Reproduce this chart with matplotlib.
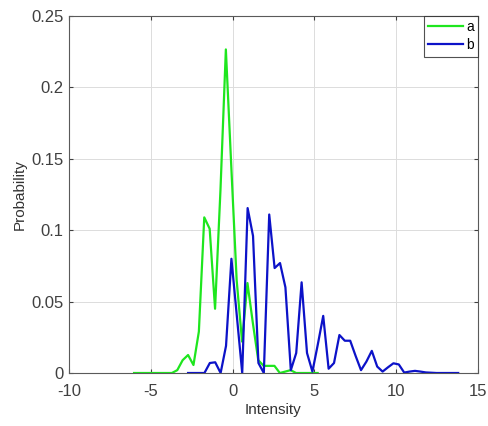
import matplotlib
matplotlib.use("Agg")
import matplotlib.pyplot as plt
from matplotlib.ticker import FormatStrFormatter

plt.rcParams['font.family'] = ['Liberation Sans', 'DejaVu Sans']
plt.rcParams['axes.unicode_minus'] = False

# series a (green)
a_x = [-6.02, -5.69, -5.36, -5.03, -4.70, -4.37, -4.04, -3.71, -3.38, -3.05,
       -2.72, -2.39, -2.06, -1.73, -1.40, -1.07, -0.74, -0.41, -0.08, 0.25,
       0.58, 0.91, 1.24, 1.57, 1.90, 2.23, 2.56, 2.89, 3.22, 3.55,
       3.88, 4.21, 4.54, 4.87, 5.20]
a_y = [0, 0, 0, 0, 0, 0, 0, 0, 0.002, 0.009,
       0.0126, 0.0056, 0.029, 0.109, 0.101, 0.045, 0.128, 0.2266, 0.145, 0.065,
       0.022, 0.063, 0.035, 0.009, 0.005, 0.005, 0.005, 0.0, 0.001, 0.002,
       0.0, 0, 0, 0, 0]

# series b (blue)
b_x = [-2.72, -2.39, -2.05, -1.72, -1.39, -1.06, -0.73, -0.40, -0.07, 0.26,
       0.59, 0.92, 1.25, 1.58, 1.91, 2.24, 2.57, 2.90, 3.23, 3.56,
       3.89, 4.22, 4.55, 4.88, 5.21, 5.54, 5.87, 6.20, 6.53, 6.86,
       7.19, 7.52, 7.85, 8.18, 8.51, 8.84, 9.17, 9.50, 9.83, 10.16,
       10.49, 10.82, 11.15, 11.48, 11.81, 12.14, 12.47, 12.80, 13.13, 13.46,
       13.79]
b_y = [0, 0, 0, 0, 0.007, 0.0075, 0.0, 0.019, 0.080, 0.04,
       0.0, 0.1155, 0.096, 0.007, 0.0, 0.111, 0.0735, 0.077, 0.060, 0.002,
       0.014, 0.0635, 0.014, 0.001, 0.02, 0.040, 0.003, 0.007, 0.0266, 0.0226,
       0.0226, 0.012, 0.002, 0.008, 0.0155, 0.0045, 0.001, 0.004, 0.0068, 0.006,
       0.0003, 0.001, 0.0015, 0.001, 0.0004, 0.0002, 0, 0, 0, 0,
       0]

fig = plt.figure(figsize=(4.89, 4.26), dpi=100)
ax = fig.add_axes([0.141, 0.1244, 0.8365, 0.838])

ax.plot(a_x, a_y, color='#1ee61e', lw=1.6, label='a')
ax.plot(b_x, b_y, color='#0c12c8', lw=1.6, label='b')

ax.set_xlim(-10, 15)
ax.set_ylim(0, 0.25)
ax.set_xticks([-10, -5, 0, 5, 10, 15])
ax.set_yticks([0, 0.05, 0.1, 0.15, 0.2, 0.25])
ax.yaxis.set_major_formatter(FormatStrFormatter('%g'))
ax.grid(True, color='#dcdcdc', lw=0.7)
ax.set_axisbelow(True)
ax.tick_params(direction='in', length=3, labelsize=12, colors='#404040',
               top=True, right=True)
ax.tick_params(axis='x', pad=8)
ax.tick_params(axis='y', pad=4)
for s in ax.spines.values():
    s.set_color('#5a5a5a')
    s.set_linewidth(0.8)

ax.set_xlabel('Intensity', fontsize=11, color='#333333', labelpad=3)
ax.set_ylabel('Probability', fontsize=11, color='#333333', labelpad=3)

leg = ax.legend(loc='upper right', borderaxespad=0, fancybox=False,
                edgecolor='#262626', handlelength=2.5, handletextpad=0.25,
                labelspacing=0.3, borderpad=0.3, fontsize=10)
leg.get_frame().set_linewidth(0.8)

fig.savefig('out.png', dpi=100)
